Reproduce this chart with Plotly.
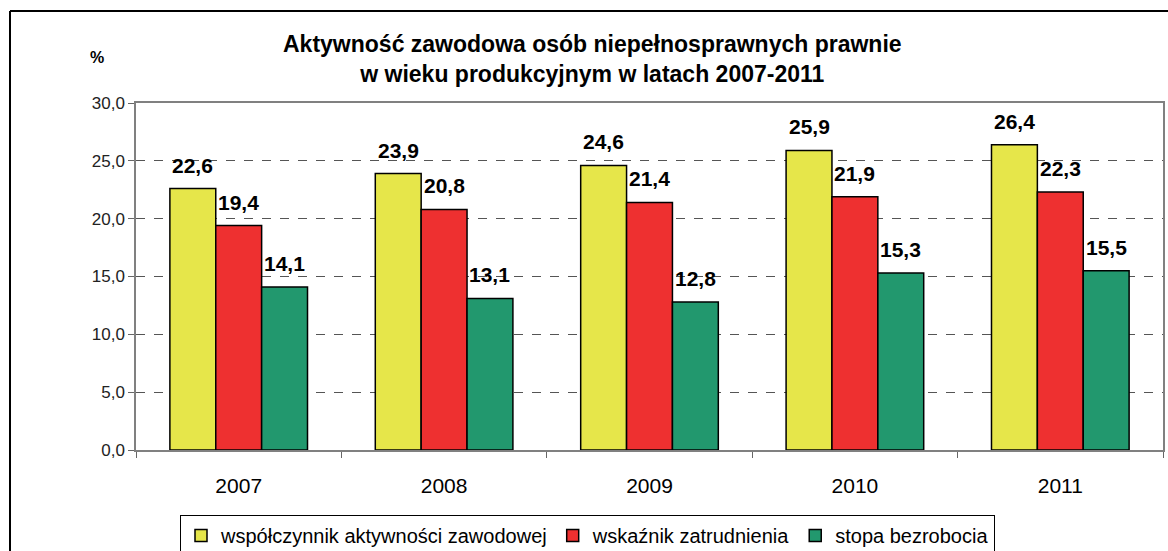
import plotly.graph_objects as go

years = ["2007", "2008", "2009", "2010", "2011"]
series_names = ["współczynnik aktywności zawodowej", "wskaźnik zatrudnienia", "stopa bezrobocia"]
aktywnosc = [22.6, 23.9, 24.6, 25.9, 26.4]
zatrudnienie = [19.4, 20.8, 21.4, 21.9, 22.3]
bezrobocie = [14.1, 13.1, 12.8, 15.3, 15.5]
colors = ["#E6E64A", "#EE3030", "#22986E"]

FONT = "Arial, 'Liberation Sans', sans-serif"
W, H = 1168, 551
ml, mr, mt, mb = 136, 5, 103, 101
pw = W - ml - mr
ph = H - mt - mb
bargap = 0.33
bar_px = pw / len(years) * (1 - bargap) / 3

fig = go.Figure()
all_series = [aktywnosc, zatrudnienie, bezrobocie]
for name, vals, col in zip(series_names, all_series, colors):
    fig.add_trace(go.Bar(
        x=years, y=vals, name=name,
        marker=dict(color=col, line=dict(color="black", width=1.5)),
    ))

fmt = lambda v: f"{v:.1f}".replace(".", ",")
annotations = []
for i, vals in enumerate(all_series):
    off = (i - 1) * bar_px
    for j, v in enumerate(vals):
        annotations.append(dict(
            x=j, y=v, xref="x", yref="y", text="<b>" + fmt(v) + "</b>", showarrow=False,
            xshift=off, yshift=10, yanchor="bottom",
            font=dict(family=FONT, size=21, color="black"),
        ))

annotations.append(dict(
    x=(592 - ml) / pw, y=(450 - 59) / ph, xref="paper", yref="paper",
    text="<b>Aktywność zawodowa osób niepełnosprawnych prawnie<br>w wieku produkcyjnym w latach 2007-2011</b>",
    showarrow=False, xanchor="center", yanchor="middle",
    font=dict(family=FONT, size=23, color="black"), align="center",
))
annotations.append(dict(
    x=(97 - ml) / pw, y=(450 - 58) / ph, xref="paper", yref="paper",
    text="<b>%</b>", showarrow=False, xanchor="center", yanchor="middle",
    font=dict(family=FONT, size=16, color="black"),
))
fig.update_layout(annotations=annotations)

# outer frame: top and left edges only
fx0 = (10 - ml) / pw
fx1 = (1168 - ml) / pw
fy_top = (450 - 11) / ph
fy_bot = (450 - 551) / ph
fig.add_shape(type="line", xref="paper", yref="paper",
              x0=fx0, x1=fx1, y0=fy_top, y1=fy_top,
              line=dict(color="black", width=2), layer="below")
fig.add_shape(type="line", xref="paper", yref="paper",
              x0=fx0, x1=fx0, y0=fy_top, y1=fy_bot,
              line=dict(color="black", width=2), layer="below")

fig.update_layout(
    width=W, height=H,
    margin=dict(l=ml, r=mr, t=mt, b=mb, autoexpand=False),
    paper_bgcolor="white", plot_bgcolor="white",
    barmode="group", bargap=bargap, bargroupgap=0,
    separators=", ",
    showlegend=True,
    legend=dict(
        orientation="h", x=(180 - ml) / pw, y=(450 - 515) / ph,
        xanchor="left", yanchor="top",
        font=dict(family=FONT, size=20, color="black"),
        bordercolor="black", borderwidth=1, bgcolor="white",
        itemwidth=30, traceorder="normal",
    ),
    font=dict(family=FONT, color="black"),
)
fig.update_yaxes(
    range=[0, 30], dtick=5, tickformat=".1f",
    showgrid=True, gridcolor="#555555", griddash="dash", gridwidth=1,
    showline=True, linecolor="#808080", linewidth=1.5, mirror=True,
    ticks="outside", ticklen=6, tickcolor="#666666",
    tickfont=dict(family=FONT, size=17, color="#222222"),
    zeroline=False, automargin=False,
)
fig.update_xaxes(
    type="category", range=[-0.5, len(years) - 0.5], autorange=False,
    showline=True, linecolor="#808080", linewidth=1.5, mirror=True,
    ticks="outside", tickson="boundaries", ticklen=6, tickcolor="#666666",
    tickfont=dict(family=FONT, size=21, color="black"),
    ticklabelstandoff=16,
    showgrid=False, automargin=False,
)

fig.write_html("out.html", config={"displayModeBar": False},
               post_script="document.body.style.margin='0';document.body.style.overflow='hidden';")
